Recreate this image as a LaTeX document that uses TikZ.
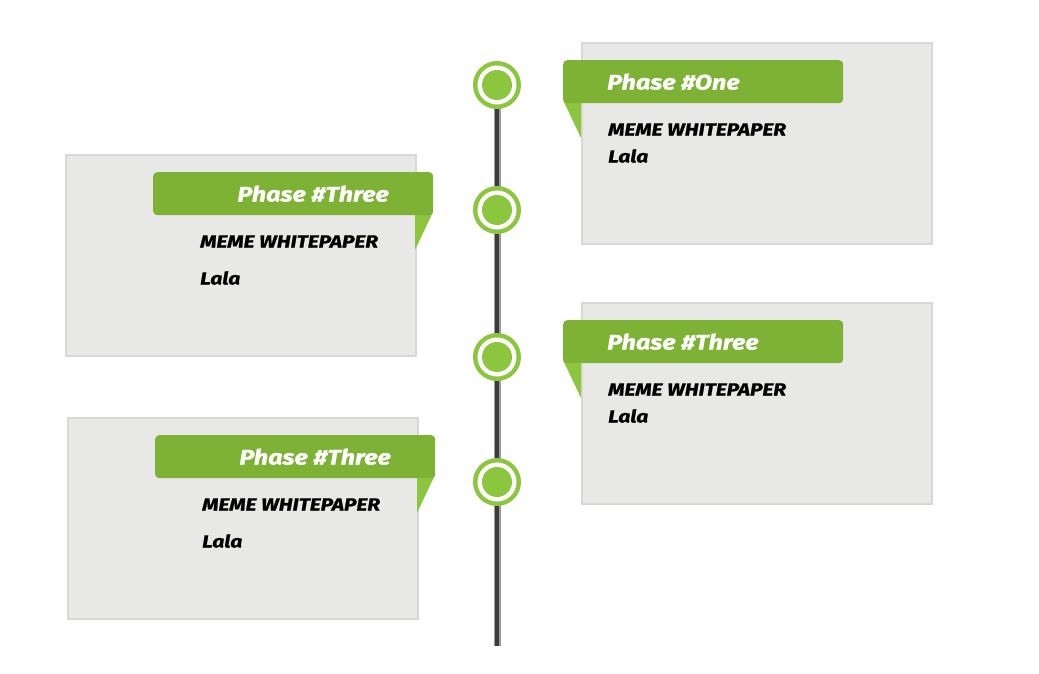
\documentclass[tikz,border=0pt]{standalone}
\usepackage{fontspec}
\setmainfont{Fira Sans}[FakeStretch=1.2, BoldItalicFeatures={FakeBold=1.2}]
\definecolor{boxgray}{HTML}{E8E8E7}
\definecolor{boxedge}{HTML}{D8D8D6}
\definecolor{tabgreen}{HTML}{7DB234}
\definecolor{foldgreen}{HTML}{8CC63F}
\definecolor{dotgreen}{HTML}{8CC63F}
\definecolor{linedark}{HTML}{3C3C3C}
\definecolor{lineedge}{HTML}{9A9A9A}
\tikzset{
  card/.style={draw=boxedge, line width=1.5pt, fill=boxgray, minimum width=350pt, minimum height=201pt, inner sep=0pt, anchor=north west},
  tab/.style={fill=tabgreen, rounded corners=4pt, minimum width=280pt, minimum height=43pt, inner sep=0pt, anchor=north west},
  fold/.style={fill=foldgreen},
  phasetxt/.style={text=white, font=\fontsize{21}{21}\selectfont\bfseries\itshape, inner sep=0pt},
  bodytxt/.style={text=black, font=\fontsize{17.5}{17.5}\selectfont\bfseries\itshape, inner sep=0pt, anchor=base west},
  dot/.style={circle, fill=dotgreen, minimum size=48pt, inner sep=0pt, path picture={\fill[white] (path picture bounding box.center) circle (19.5pt); \fill[dotgreen] (path picture bounding box.center) circle (15pt);}},
}
\begin{document}
\begin{tikzpicture}[x=1pt,y=-1pt]
\useasboundingbox (0,0) rectangle (1039,673);
% timeline
\coordinate (ltop) at (497,72);
\coordinate (lbot) at (497,646);
\draw[lineedge, line width=7pt] (ltop) -- (lbot);
\draw[linedark, line width=4pt] (ltop) -- (lbot);
% cards
\node[card] (c1) at (581,42) {};
\node[card] (c2) at (65,154) {};
\node[card] (c3) at (581,302) {};
\node[card] (c4) at (67,417) {};
% folds
\fill[fold] (563,100) -- (581,103) -- (581,138) -- cycle;
\fill[fold] (433,212) -- (415,215) -- (415,250) -- cycle;
\fill[fold] (563,360) -- (581,363) -- (581,398) -- cycle;
\fill[fold] (435,475) -- (417,478) -- (417,513) -- cycle;
% tabs
\node[tab] (t1) at (563,60) {};
\node[tab] (t2) at (153,172) {};
\node[tab] (t3) at (563,320) {};
\node[tab] (t4) at (155,435) {};
% tab texts
\node[phasetxt, anchor=base west] (p1) at (607,89.5) {Phase \#One};
\node[phasetxt, anchor=base east] (p2) at (389,201.5) {Phase \#Three};
\node[phasetxt, anchor=base west] (p3) at (607,349.5) {Phase \#Three};
\node[phasetxt, anchor=base east] (p4) at (391,464.5) {Phase \#Three};
% body texts
\node[bodytxt] (m1) at (608,135.5) {MEME WHITEPAPER};
\node[bodytxt] (l1) at (608,162.5) {Lala};
\node[bodytxt] (m2) at (200,247.5) {MEME WHITEPAPER};
\node[bodytxt] (l2) at (200,284.5) {Lala};
\node[bodytxt] (m3) at (608,395.5) {MEME WHITEPAPER};
\node[bodytxt] (l3) at (608,422.5) {Lala};
\node[bodytxt] (m4) at (202,510.5) {MEME WHITEPAPER};
\node[bodytxt] (l4) at (202,547.5) {Lala};
% dots
\node[dot] (d1) at (497,85) {};
\node[dot] (d2) at (497,210) {};
\node[dot] (d3) at (497,357) {};
\node[dot] (d4) at (497,482) {};
\end{tikzpicture}
\end{document}
